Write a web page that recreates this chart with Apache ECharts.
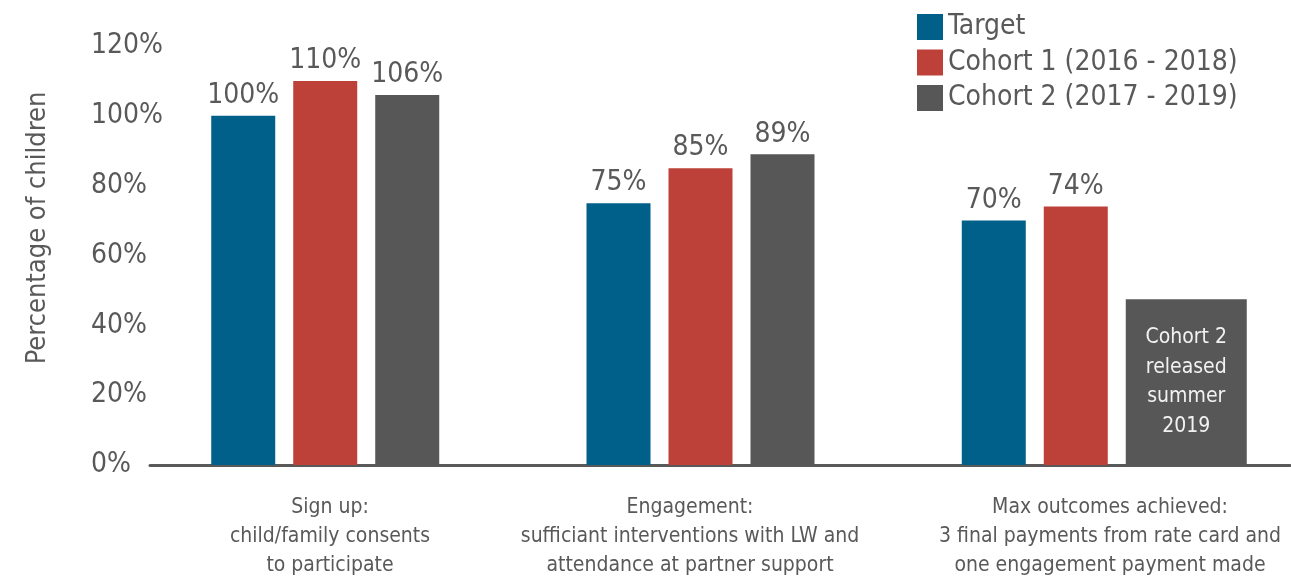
<!DOCTYPE html>
<html><head><meta charset="utf-8">
<script src="https://cdn.jsdelivr.net/npm/echarts@6/dist/echarts.min.js"></script>
<style>html,body{margin:0;padding:0;background:#fff}#c{width:1291px;height:577px}</style>
</head><body><div id="c"></div>
<script>
// ---- data ----
const categories = [
  'Sign up:\nchild/family consents\nto participate',
  'Engagement:\nsufficiant interventions with LW and\nattendance at partner support',
  'Max outcomes achieved:\n3 final payments from rate card and\none engagement payment made'
];
const seriesNames = ['Target', 'Cohort 1 (2016 - 2018)', 'Cohort 2 (2017 - 2019)'];
const targetValues = [100, 75, 70];
const cohort1Values = [110, 85, 74];
const cohort2Values = [106, 89, '-'];
const placeholderData = [[2, 47.5]];   // category index, height of placeholder bar
const placeholderText = 'Cohort 2\nreleased\nsummer\n2019';
const yMin = 0, yMax = 120, yStep = 20;
const yAxisTitle = 'Percentage of children';

// ---- style ----
const FONT = "'Liberation Sans Narrow','DejaVu Sans Condensed','Arial Narrow',sans-serif";
const TXT = '#595959';
const COLORS = ['#00608A', '#BE4139', '#575757'];
const BAR_W = 64, GAP_PX = 18, WIDE_W = 121;
// per-category label nudges (left/right padding) to match the original label placement
const LABEL_PAD = [[0, 20, 0, 0], [0, 60, 0, 0], [0, 0, 0, 20]];

const chart = echarts.init(document.getElementById('c'), null, {renderer: 'canvas'});

function barSeries(name, data, color) {
  return {
    name, type: 'bar', data, xAxisIndex: 0, yAxisIndex: 0,
    barWidth: BAR_W, barGap: (GAP_PX / BAR_W * 100) + '%',
    itemStyle: {color},
    label: {show: true, position: 'top', distance: 6, formatter: '{c}%',
      color: TXT, fontFamily: FONT, fontSize: 28},
    animation: false
  };
}

const rich = {};
LABEL_PAD.forEach((p, i) => {
  rich['c' + i] = {padding: p, color: TXT, fontFamily: FONT, fontSize: 21, lineHeight: 29};
});

const option = {
  animation: false,
  textStyle: {fontFamily: FONT},
  grid: [
    {left: 137.6, right: 27.6, top: 46, bottom: 112, outerBoundsMode: 'none', containLabel: false},
    {left: 150, right: 1, top: 46, bottom: 112, outerBoundsMode: 'none', containLabel: false}
  ],
  legend: {
    data: seriesNames, orient: 'vertical', left: 912, top: 8,
    itemWidth: 26, itemHeight: 26, itemGap: 7.5, icon: 'rect',
    textStyle: {fontFamily: FONT, fontSize: 28, color: TXT},
    selectedMode: false
  },
  graphic: [{
    type: 'text', x: 38, y: 228, rotation: Math.PI / 2,
    style: {text: yAxisTitle, fontFamily: FONT, fontSize: 27, fill: TXT,
      textAlign: 'center', textVerticalAlign: 'middle'}
  }],
  xAxis: [
    {type: 'category', gridIndex: 0, data: categories,
      axisLine: {show: false}, axisTick: {show: false}, axisLabel: {show: false}},
    {type: 'category', gridIndex: 1, data: categories,
      axisLine: {show: true, onZero: false, lineStyle: {color: TXT, width: 3}}, axisTick: {show: false},
      axisLabel: {interval: 0, color: TXT, fontFamily: FONT, fontSize: 21, lineHeight: 29, margin: 28,
        formatter: (v, i) => v.split('\n').map(l => '{c' + i + '|' + l + '}').join('\n'),
        rich}}
  ],
  yAxis: [
    {type: 'value', gridIndex: 0, min: yMin, max: yMax, interval: yStep,
      axisLine: {show: false}, axisTick: {show: false}, splitLine: {show: false},
      axisLabel: {formatter: '{value}%', color: TXT, fontFamily: FONT, fontSize: 28,
        align: 'left', margin: 46.6}},
    {type: 'value', gridIndex: 1, min: yMin, max: yMax, show: false, splitLine: {show: false}}
  ],
  series: [
    barSeries(seriesNames[0], targetValues, COLORS[0]),
    barSeries(seriesNames[1], cohort1Values, COLORS[1]),
    barSeries(seriesNames[2], cohort2Values, COLORS[2]),
    {
      type: 'custom', name: 'placeholder', xAxisIndex: 0, yAxisIndex: 0,
      data: placeholderData, encode: {x: 0, y: 1}, z: 3,
      renderItem(params, api) {
        const cat = api.value(0), v = api.value(1);
        const p0 = api.coord([cat, 0]);
        const p1 = api.coord([cat, v]);
        const x = p0[0] + BAR_W / 2 + GAP_PX;
        return {
          type: 'rect',
          shape: {x, y: p1[1], width: WIDE_W, height: p0[1] - p1[1]},
          style: {fill: COLORS[2]},
          textContent: {style: {text: placeholderText, fill: '#f2f2f2', fontFamily: FONT,
            fontSize: 21, lineHeight: 29.5, align: 'center'}},
          textConfig: {position: 'inside'}
        };
      }
    }
  ]
};
chart.setOption(option);
</script></body></html>
